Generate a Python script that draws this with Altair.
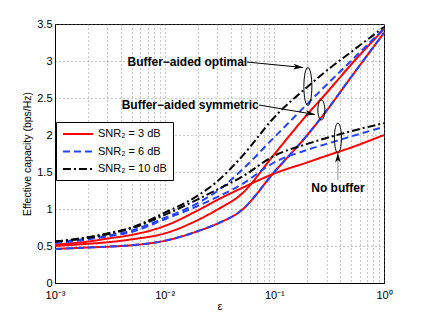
import altair as alt
import pandas as pd

# ---------------- data ----------------
eps = [0.001, 0.002, 0.003, 0.005, 0.01, 0.02, 0.03, 0.05, 0.1, 0.2, 0.3, 0.5, 1.0]
snr_labels = ["SNR₂ = 3 dB", "SNR₂ = 6 dB", "SNR₂ = 10 dB"]

red_opt = [0.50, 0.53, 0.55, 0.59, 0.67, 0.85, 0.99, 1.20, 1.74, 2.28, 2.57, 2.95, 3.43]
red_nb = [0.52, 0.56, 0.60, 0.65, 0.77, 0.98, 1.12, 1.28, 1.48, 1.63, 1.72, 1.83, 2.00]
red_sym = [0.46, 0.48, 0.49, 0.51, 0.57, 0.70, 0.80, 0.98, 1.50, 2.00, 2.33, 2.78, 3.38]

blue_opt = [0.55, 0.60, 0.64, 0.71, 0.88, 1.08, 1.24, 1.52, 1.97, 2.42, 2.68, 3.00, 3.44]
blue_nb = [0.54, 0.59, 0.63, 0.69, 0.86, 1.04, 1.16, 1.33, 1.63, 1.80, 1.88, 1.98, 2.11]
blue_sym = [0.46, 0.48, 0.49, 0.51, 0.57, 0.70, 0.80, 0.98, 1.50, 2.00, 2.33, 2.78, 3.38]

black_opt = [0.56, 0.62, 0.67, 0.75, 0.95, 1.18, 1.37, 1.70, 2.24, 2.65, 2.87, 3.12, 3.46]
black_nb = [0.56, 0.61, 0.66, 0.74, 0.92, 1.13, 1.26, 1.43, 1.72, 1.88, 1.96, 2.05, 2.16]

x_ticks = [m * d for d in [0.001, 0.01, 0.1] for m in range(1, 10)] + [1.0]
y_ticks = [0.0, 0.5, 1.0, 1.5, 2.0, 2.5, 3.0, 3.5]
y_tick_labels = ["0", "0.5", "1", "1.5", "2", "2.5", "3", "3.5"]

# annotations (data coordinates)
ann_text = ["Buffer−aided optimal", "Buffer−aided symmetric", "No buffer"]
ann_eps = [0.0161, 0.0171, 0.380]
ann_val = [2.993, 2.405, 1.28]

ell_eps = [0.2022, 0.2684, 0.380]
ell_val = [2.655, 2.338, 1.959]
ell_h = [38, 20, 30]
ell_w = [8, 7, 7]

arr_eps1 = [0.0562, 0.0725, 0.380]
arr_val1 = [2.986, 2.405, 1.392]
arr_eps2 = [0.1824, 0.2344, 0.380]
arr_val2 = [2.912, 2.277, 1.757]
arr_angle = [5.6, 9.6, 270]
arr_color = ["#000000", "#000000", "#8a8a8a"]

# ---------------- build tables ----------------
series = [
    (snr_labels[0], "opt", red_opt), (snr_labels[0], "nb", red_nb), (snr_labels[0], "sym", red_sym),
    (snr_labels[1], "opt", blue_opt), (snr_labels[1], "nb", blue_nb), (snr_labels[1], "sym", blue_sym),
    (snr_labels[2], "opt", black_opt), (snr_labels[2], "nb", black_nb),
]
rows = []
for snr, scheme, vals in series:
    for e, v in zip(eps, vals):
        rows.append({"eps": e, "cap": v, "snr": snr, "scheme": scheme})
df = pd.DataFrame(rows)


def ellipse_path(rx):
    k = 0.5523
    a = k * rx
    return (f"M0,-1C{a:.4f},-1 {rx:.4f},-{k} {rx:.4f},0"
            f"C{rx:.4f},{k} {a:.4f},1 0,1"
            f"C-{a:.4f},1 -{rx:.4f},{k} -{rx:.4f},0"
            f"C-{rx:.4f},-{k} -{a:.4f},-1 0,-1Z")


ell_df = pd.DataFrame({
    "eps": ell_eps, "cap": ell_val,
    "shape": [ellipse_path(w / h) for w, h in zip(ell_w, ell_h)],
    "size": [h * h for h in ell_h],
})
arr_df = pd.DataFrame({"eps": arr_eps1, "cap": arr_val1, "eps2": arr_eps2, "cap2": arr_val2,
                       "ang": arr_angle, "col": arr_color})
txt_df = pd.DataFrame({"eps": ann_eps, "cap": ann_val, "label": ann_text})

FONT = "Liberation Sans"

label_expr = ("datum.value == 0.001 ? '10⁻³' : datum.value == 0.01 ? '10⁻²' : "
              "datum.value == 0.1 ? '10⁻¹' : datum.value == 1 ? '10⁰' : ''")
y_label_expr = " : ".join(
    f"abs(datum.value - {v}) < 0.01 ? '{t}'" for v, t in zip(y_ticks, y_tick_labels)
) + " : ''"

x_axis = alt.Axis(values=x_ticks, labelExpr=label_expr, labelOverlap=False,
                  labelFlush=False, ticks=False, labelPadding=6,
                  titleY=26, titleBaseline="alphabetic",
                  labelFontSize=11, titleFontSize=11, titleFontWeight="normal")
y_axis = alt.Axis(values=y_ticks, labelExpr=y_label_expr, ticks=False, labelPadding=3,
                  labelOverlap=False, labelFlush=False,
                  titlePadding=4, labelFontSize=11, titleFontSize=10.5,
                  titleFontWeight="normal")
x_scale = alt.Scale(type="log", domain=[0.001, 1], nice=False)
y_scale = alt.Scale(domain=[0, 3.5], nice=False, zero=False)

x_enc = alt.X("eps:Q", title="ε", scale=x_scale, axis=x_axis)
y_enc = alt.Y("cap:Q", title="Effective capacity (bps/Hz)", scale=y_scale, axis=y_axis)

legend = alt.Legend(title=None, orient="none", legendX=1, legendY=98,
                    symbolType="M-1,0H5", symbolSize=100, symbolStrokeWidth=2,
                    labelOffset=24, labelFontSize=11, padding=6, rowPadding=6.5,
                    strokeColor="#000000", fillColor="#ffffff", labelColor="#000000")

color = alt.Color("snr:N", sort=snr_labels,
                  scale=alt.Scale(domain=snr_labels, range=["#ff0000", "#2244ff", "#000000"]),
                  legend=legend)
dash = alt.StrokeDash("snr:N", sort=snr_labels,
                      scale=alt.Scale(domain=snr_labels, range=[[1, 0], [7, 4], [8, 3, 2, 3]]),
                      legend=legend)

base = alt.Chart(df)
line_layers = [
    base.transform_filter(alt.datum.snr == s)
    .mark_line(strokeWidth=2, interpolate="monotone")
    .encode(x=x_enc, y=y_enc, color=color, strokeDash=dash, detail="scheme:N")
    for s in snr_labels
]

ellipses = alt.Chart(ell_df).mark_point(filled=False, stroke="black", strokeWidth=1, opacity=1).encode(
    x=x_enc, y=y_enc,
    shape=alt.Shape("shape:N", scale=None),
    size=alt.Size("size:Q", scale=None),
)

arrow_lines = alt.Chart(arr_df).mark_rule(strokeWidth=1).encode(
    x=x_enc, y=y_enc, x2=alt.X2("eps2:Q"), y2=alt.Y2("cap2:Q"),
    color=alt.Color("col:N", scale=None),
)

heads = alt.Chart(arr_df).mark_point(filled=True, shape="M0,0L-2,-0.6L-1.5,0L-2,0.6Z",
                                     size=90, opacity=1, color="black").encode(
    x=alt.X("eps2:Q", title="ε", scale=x_scale, axis=x_axis),
    y=alt.Y("cap2:Q", title="Effective capacity (bps/Hz)", scale=y_scale, axis=y_axis),
    angle=alt.Angle("ang:Q", scale=None),
)

texts = alt.Chart(txt_df).mark_text(fontWeight="bold", fontSize=12, font=FONT,
                                    align="center", baseline="middle", color="black").encode(
    x=x_enc, y=y_enc, text="label:N"
)

chart = alt.layer(*line_layers, ellipses, arrow_lines, heads, texts).properties(
    width=329, height=259,
    autosize=alt.AutoSizeParams(type="none"),
    padding={"left": 47, "top": 16, "right": 30, "bottom": 28},
).configure(font=FONT).configure_view(
    stroke="#000000", strokeWidth=1
).configure_axis(
    gridColor="#777777", gridDash=[1, 3], gridOpacity=0.8, gridWidth=1,
    domainColor="#000000", labelColor="#000000", titleColor="#000000", labelFont=FONT, titleFont=FONT,
    labelOverlap=False,
)

chart.save("out.html", embed_options={"renderer": "svg", "actions": False})
